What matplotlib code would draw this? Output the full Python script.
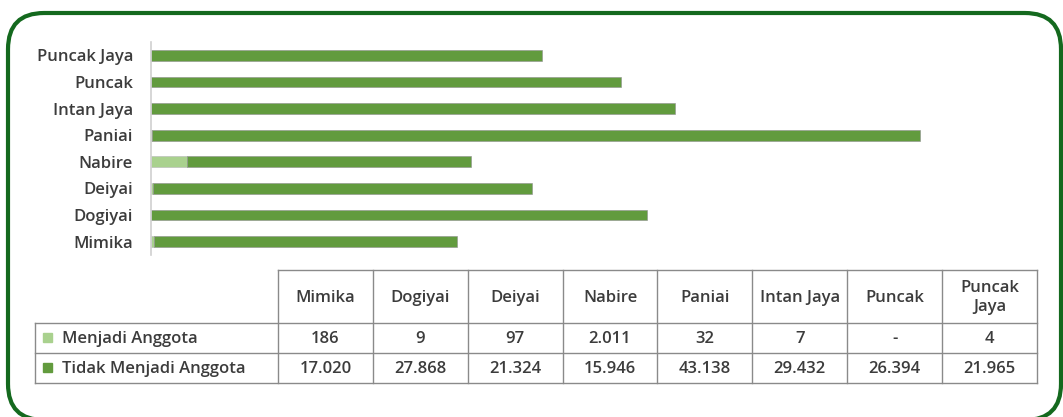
import matplotlib
matplotlib.use("Agg")
import matplotlib.pyplot as plt
from matplotlib.patches import FancyBboxPatch, Rectangle

W, H = 1063, 417

categories = ["Mimika", "Dogiyai", "Deiyai", "Nabire", "Paniai",
              "Intan Jaya", "Puncak", "Puncak Jaya"]
header_labels = ["Mimika", "Dogiyai", "Deiyai", "Nabire", "Paniai",
                 "Intan Jaya", "Puncak", "Puncak\nJaya"]
axis_labels = ["Mimika", "Dogiyai", "Deiyai", "Nabire", "Paniai",
               "Intan Jaya", "Puncak", "Puncak Jaya"]
menjadi = [186, 9, 97, 2011, 32, 7, 0, 4]
tidak = [17020, 27868, 21324, 15946, 43138, 29432, 26394, 21965]
menjadi_txt = ["186", "9", "97", "2.011", "32", "7", "-", "4"]
tidak_txt = ["17.020", "27.868", "21.324", "15.946", "43.138", "29.432",
             "26.394", "21.965"]
series_names = ["Menjadi Anggota", "Tidak Menjadi Anggota"]

LIGHT = "#a9d18e"
DARK = "#629b3e"
TXT = "#3c3c3c"
FS = 12

plt.rcParams["font.family"] = ["Open Sans", "DejaVu Sans"]
plt.rcParams["font.weight"] = "semibold"


def fig_rect(x0, y0, x1, y1):
    # pixel box (top-left origin) -> figure fraction
    return [x0 / W, 1 - y1 / H, (x1 - x0) / W, (y1 - y0) / H]


fig = plt.figure(figsize=(W / 100, H / 100), dpi=100)

# rounded green frame (runs slightly off the bottom edge)
frame = FancyBboxPatch((8 / W, -3 / H), 1053 / W, 407 / H,
                       boxstyle="round,pad=0,rounding_size=0.034",
                       transform=fig.transFigure, fill=False,
                       edgecolor="#14691e", linewidth=3,
                       mutation_aspect=W / H)
fig.patches.append(frame)

# bar chart
ax = fig.add_axes(fig_rect(151, 42, 1036, 255))
y = range(len(categories))
ax.barh(y, menjadi, height=0.4, color=LIGHT, edgecolor="#b8b8b8", linewidth=0.4)
ax.barh(y, tidak, left=menjadi, height=0.4, color=DARK,
        edgecolor="#8f8f8f", linewidth=0.4)
ax.set_xlim(0, 49700)
ax.set_ylim(-0.5, len(categories) - 0.5)
ax.set_yticks(list(y))
ax.set_yticklabels(axis_labels, fontsize=FS, color=TXT)
ax.tick_params(axis="y", length=0, pad=13)
ax.set_xticks([])
for s in ["top", "right", "bottom"]:
    ax.spines[s].set_visible(False)
ax.spines["left"].set_color("#d0d0d0")
ax.spines["left"].set_linewidth(1.2)

# data table
tx0, tx1 = 35, 1037
col0 = 278
ty = [270, 323, 353, 383]
tab = fig.add_axes(fig_rect(tx0 - 2, ty[0] - 2, tx1 + 2, ty[-1] + 2))
tab.set_xlim(tx0 - 2, tx1 + 2)
tab.set_ylim(ty[-1] + 2, ty[0] - 2)
tab.axis("off")
ncol = len(header_labels)
cw = (tx1 - col0) / ncol
lc = "#8a8a8a"
tab.plot([col0, tx1], [ty[0], ty[0]], color=lc, lw=1)
for yy in ty[1:]:
    tab.plot([tx0, tx1], [yy, yy], color=lc, lw=1)
tab.plot([tx0, tx0], [ty[1], ty[3]], color=lc, lw=1)
for i in range(ncol + 1):
    xx = col0 + i * cw
    tab.plot([xx, xx], [ty[0], ty[3]], color=lc, lw=1)

for i, lab in enumerate(header_labels):
    cx = col0 + (i + 0.5) * cw
    tab.text(cx, (ty[0] + ty[1]) / 2 + 1, lab, ha="center", va="center",
             fontsize=FS, color=TXT, linespacing=1.2)
    tab.text(cx, (ty[1] + ty[2]) / 2 + 1, menjadi_txt[i], ha="center",
             va="center", fontsize=FS, color=TXT)
    tab.text(cx, (ty[2] + ty[3]) / 2 + 1, tidak_txt[i], ha="center",
             va="center", fontsize=FS, color=TXT)

for r, (name, col) in enumerate(zip(series_names, [LIGHT, DARK])):
    yc = (ty[r + 1] + ty[r + 2]) / 2
    tab.add_patch(Rectangle((43, yc - 5), 9, 9, color=col))
    tab.text(62, yc + 1, name, ha="left", va="center", fontsize=FS, color=TXT)

fig.savefig("out.png", dpi=100)
